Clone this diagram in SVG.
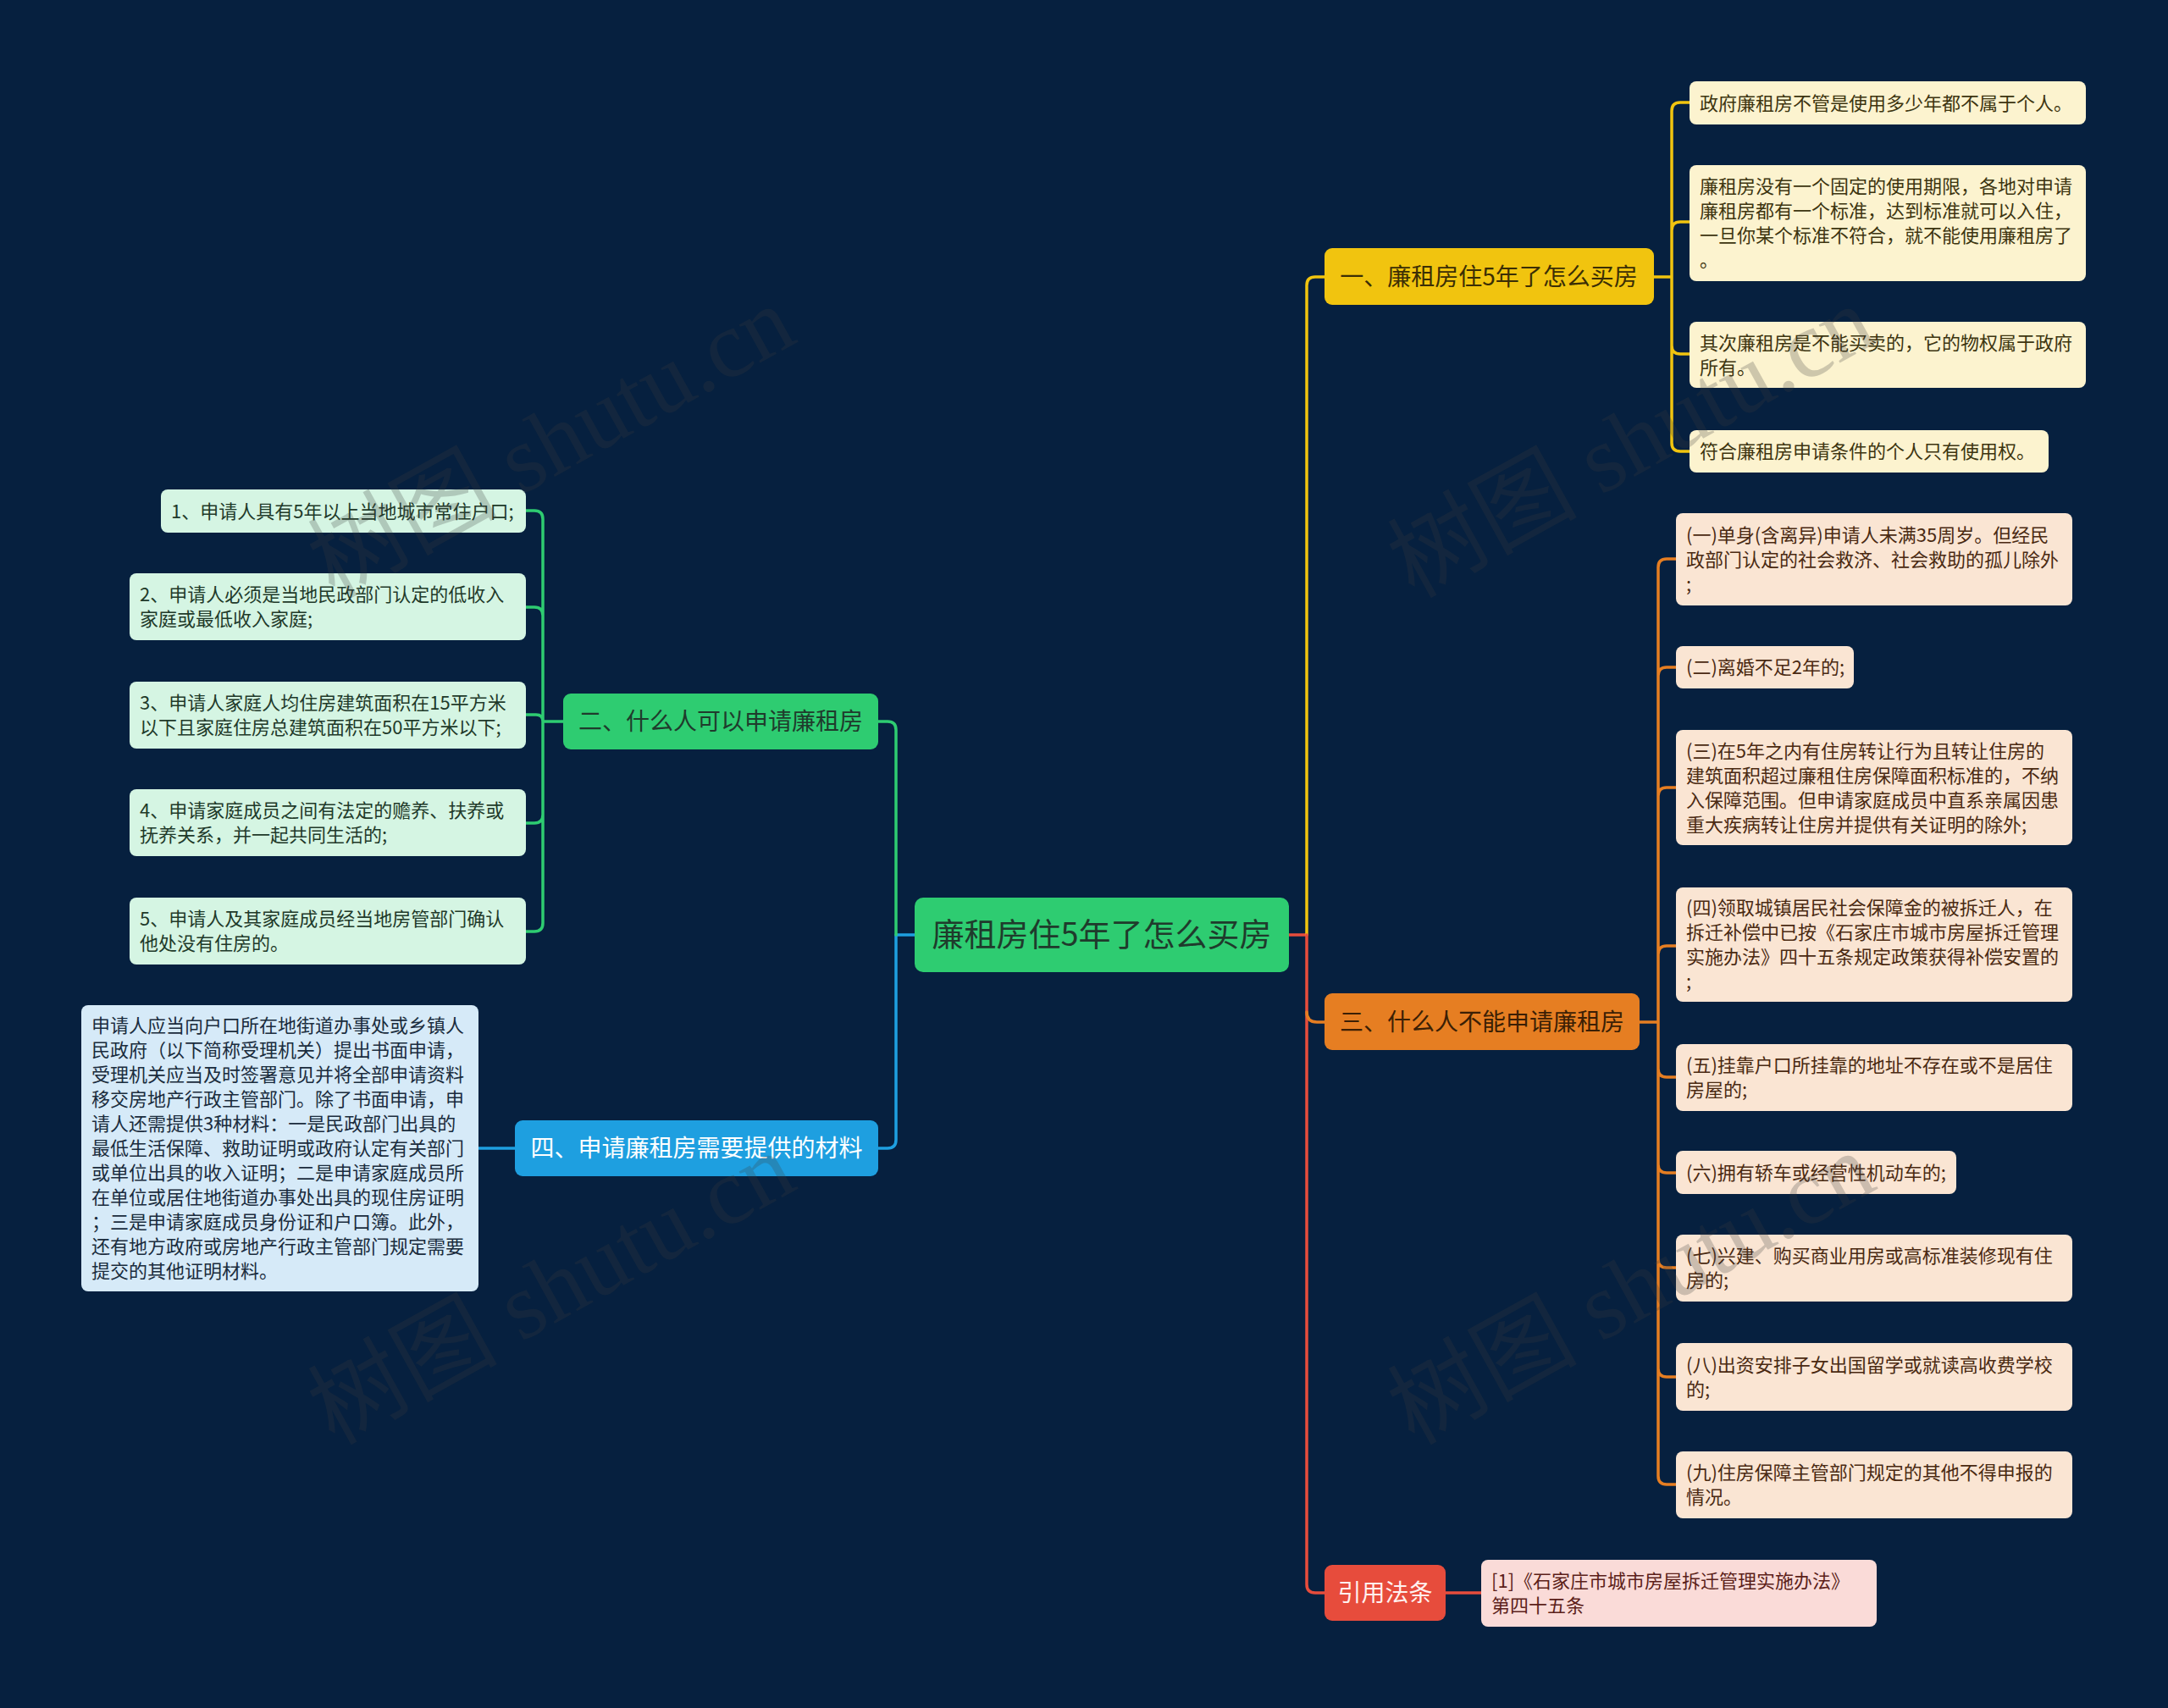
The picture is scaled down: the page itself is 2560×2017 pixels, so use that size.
<svg xmlns="http://www.w3.org/2000/svg" width="2560" height="2017" viewBox="0 0 2560 2017">
<style>
text{font-family:"Noto Sans CJK SC","Noto Sans",sans-serif;}
.t1{font-size:28px;text-anchor:middle;}
.t2{font-size:22px;}
.c{fill:none;stroke-width:3.5;stroke-linecap:round;stroke-linejoin:round;}
.wm{font-family:"Liberation Serif","Noto Sans CJK SC",serif;font-size:112px;fill:#3c3c3c;opacity:0.24;}
</style>
<rect width="2560" height="2017" fill="#06203f"/>
<g id="connectors">
  <path class="c" stroke="#e74c3c" d="M1522,1104 H1543"/>
  <path class="c" stroke="#f1c40f" d="M1543,1104 V337 Q1543,327 1553,327 H1564"/>
  <path class="c" stroke="#e74c3c" d="M1543,1104 V1871 Q1543,1881 1553,1881 H1564"/>
  <path class="c" stroke="#e67e22" d="M1543,1195 Q1543,1207 1555,1207 H1564"/>
  <path class="c" stroke="#f1c40f" d="M1953,327 H1974 M1974,327 V131 Q1974,121 1984,121 H1995 M1974,327 V272 Q1974,262 1984,262 H1995 M1974,327 V408 Q1974,418 1984,418 H1995 M1974,327 V523 Q1974,533 1984,533 H1995"/>
  <path class="c" stroke="#e67e22" d="M1936,1207 H1958 M1958,1207 V670 Q1958,660 1968,660 H1979 M1958,1207 V798 Q1958,788 1968,788 H1979 M1958,1207 V940 Q1958,930 1968,930 H1979 M1958,1207 V1127 Q1958,1117 1968,1117 H1979 M1958,1207 V1262 Q1958,1272 1968,1272 H1979 M1958,1207 V1375 Q1958,1385 1968,1385 H1979 M1958,1207 V1487 Q1958,1497 1968,1497 H1979 M1958,1207 V1616 Q1958,1626 1968,1626 H1979 M1958,1207 V1743 Q1958,1753 1968,1753 H1979"/>
  <path class="c" stroke="#e74c3c" d="M1707,1881 H1749"/>
  <path class="c" stroke="#1e9fe0" d="M1080,1104 H1058 M1058,1104 V1346 Q1058,1356 1048,1356 H1037"/>
  <path class="c" stroke="#2ecc71" d="M1058,1104 V862 Q1058,852 1048,852 H1037"/>
  <path class="c" stroke="#2ecc71" d="M665,852 H641 M641,852 V613 Q641,603 631,603 H621 M641,852 V727 Q641,717 631,717 H621 M641,852 Q641,844 633,844 H621 M641,852 V962 Q641,972 631,972 H621 M641,852 V1090 Q641,1100 631,1100 H621"/>
  <path class="c" stroke="#1e9fe0" d="M608,1356 H565"/>
</g>
<g id="root">
  <rect x="1080" y="1060" width="442" height="88" rx="10" fill="#2ecc71"/>
  <text x="1301" y="1117" font-size="38" text-anchor="middle" fill="#1f3b2c">廉租房住5年了怎么买房</text>
</g>
<g id="n1">
  <rect x="1564" y="293" width="389" height="67" rx="9" fill="#f1c40f"/>
  <text class="t1" x="1758" y="337" fill="#3b2e05">一、廉租房住5年了怎么买房</text>
</g>
<g id="n1a">
  <rect x="1995" y="96" width="468" height="51" rx="8" fill="#fcf3cf"/>
  <text class="t2" x="2007" y="129.5" fill="#3d3510">政府廉租房不管是使用多少年都不属于个人。</text>
</g>
<g id="n1b">
  <rect x="1995" y="195" width="468" height="137" rx="8" fill="#fcf3cf"/>
  <text class="t2" fill="#3d3510"><tspan x="2007" y="228">廉租房没有一个固定的使用期限，各地对申请</tspan><tspan x="2007" y="257">廉租房都有一个标准，达到标准就可以入住，</tspan><tspan x="2007" y="286">一旦你某个标准不符合，就不能使用廉租房了</tspan><tspan x="2007" y="315">。</tspan></text>
</g>
<g id="n1c">
  <rect x="1995" y="380" width="468" height="78" rx="8" fill="#fcf3cf"/>
  <text class="t2" fill="#3d3510"><tspan x="2007" y="412.5">其次廉租房是不能买卖的，它的物权属于政府</tspan><tspan x="2007" y="441.5">所有。</tspan></text>
</g>
<g id="n1d">
  <rect x="1995" y="508" width="424" height="50" rx="8" fill="#fcf3cf"/>
  <text class="t2" x="2007" y="541" fill="#3d3510">符合廉租房申请条件的个人只有使用权。</text>
</g>
<g id="n3">
  <rect x="1564" y="1173" width="372" height="67" rx="9" fill="#e67e22"/>
  <text class="t1" x="1750" y="1217" fill="#3b1f05">三、什么人不能申请廉租房</text>
</g>
<g id="n3a">
  <rect x="1979" y="606" width="468" height="109" rx="8" fill="#fae5d3"/>
  <text class="t2" fill="#4a2a12"><tspan x="1991" y="639.5">(一)单身(含离异)申请人未满35周岁。但经民</tspan><tspan x="1991" y="668.5">政部门认定的社会救济、社会救助的孤儿除外</tspan><tspan x="1991" y="697.5">;</tspan></text>
</g>
<g id="n3b">
  <rect x="1979" y="763" width="210" height="50" rx="8" fill="#fae5d3"/>
  <text class="t2" x="1991" y="796" fill="#4a2a12">(二)离婚不足2年的;</text>
</g>
<g id="n3c">
  <rect x="1979" y="862" width="468" height="136" rx="8" fill="#fae5d3"/>
  <text class="t2" fill="#4a2a12"><tspan x="1991" y="894.5">(三)在5年之内有住房转让行为且转让住房的</tspan><tspan x="1991" y="923.5">建筑面积超过廉租住房保障面积标准的，不纳</tspan><tspan x="1991" y="952.5">入保障范围。但申请家庭成员中直系亲属因患</tspan><tspan x="1991" y="981.5">重大疾病转让住房并提供有关证明的除外;</tspan></text>
</g>
<g id="n3d">
  <rect x="1979" y="1048" width="468" height="135" rx="8" fill="#fae5d3"/>
  <text class="t2" fill="#4a2a12"><tspan x="1991" y="1080">(四)领取城镇居民社会保障金的被拆迁人，在</tspan><tspan x="1991" y="1109">拆迁补偿中已按《石家庄市城市房屋拆迁管理</tspan><tspan x="1991" y="1138">实施办法》四十五条规定政策获得补偿安置的</tspan><tspan x="1991" y="1167">;</tspan></text>
</g>
<g id="n3e">
  <rect x="1979" y="1233" width="468" height="79" rx="8" fill="#fae5d3"/>
  <text class="t2" fill="#4a2a12"><tspan x="1991" y="1266">(五)挂靠户口所挂靠的地址不存在或不是居住</tspan><tspan x="1991" y="1295">房屋的;</tspan></text>
</g>
<g id="n3f">
  <rect x="1979" y="1359" width="331" height="51" rx="8" fill="#fae5d3"/>
  <text class="t2" x="1991" y="1392.5" fill="#4a2a12">(六)拥有轿车或经营性机动车的;</text>
</g>
<g id="n3g">
  <rect x="1979" y="1458" width="468" height="79" rx="8" fill="#fae5d3"/>
  <text class="t2" fill="#4a2a12"><tspan x="1991" y="1491">(七)兴建、购买商业用房或高标准装修现有住</tspan><tspan x="1991" y="1520">房的;</tspan></text>
</g>
<g id="n3h">
  <rect x="1979" y="1586" width="468" height="80" rx="8" fill="#fae5d3"/>
  <text class="t2" fill="#4a2a12"><tspan x="1991" y="1619.5">(八)出资安排子女出国留学或就读高收费学校</tspan><tspan x="1991" y="1648.5">的;</tspan></text>
</g>
<g id="n3i">
  <rect x="1979" y="1714" width="468" height="79" rx="8" fill="#fae5d3"/>
  <text class="t2" fill="#4a2a12"><tspan x="1991" y="1747">(九)住房保障主管部门规定的其他不得申报的</tspan><tspan x="1991" y="1776">情况。</tspan></text>
</g>
<g id="n5">
  <rect x="1564" y="1848" width="143" height="66" rx="9" fill="#e74c3c"/>
  <text class="t1" x="1635.5" y="1891" fill="#fff1ef">引用法条</text>
</g>
<g id="n5a">
  <rect x="1749" y="1842" width="467" height="79" rx="8" fill="#fadbd8"/>
  <text class="t2" fill="#5c1f1a"><tspan x="1761" y="1875">[1]《石家庄市城市房屋拆迁管理实施办法》</tspan><tspan x="1761" y="1904">第四十五条</tspan></text>
</g>
<g id="n2">
  <rect x="665" y="819" width="372" height="66" rx="9" fill="#2ecc71"/>
  <text class="t1" x="851" y="862" fill="#1f3b2c">二、什么人可以申请廉租房</text>
</g>
<g id="n2a">
  <rect x="190" y="578" width="431" height="51" rx="8" fill="#d5f5e3"/>
  <text class="t2" x="202" y="611.5" fill="#1f3a2a">1、申请人具有5年以上当地城市常住户口;</text>
</g>
<g id="n2b">
  <rect x="153" y="677" width="468" height="79" rx="8" fill="#d5f5e3"/>
  <text class="t2" fill="#1f3a2a"><tspan x="165" y="710">2、申请人必须是当地民政部门认定的低收入</tspan><tspan x="165" y="739">家庭或最低收入家庭;</tspan></text>
</g>
<g id="n2c">
  <rect x="153" y="805" width="468" height="79" rx="8" fill="#d5f5e3"/>
  <text class="t2" fill="#1f3a2a"><tspan x="165" y="838">3、申请人家庭人均住房建筑面积在15平方米</tspan><tspan x="165" y="867">以下且家庭住房总建筑面积在50平方米以下;</tspan></text>
</g>
<g id="n2d">
  <rect x="153" y="932" width="468" height="79" rx="8" fill="#d5f5e3"/>
  <text class="t2" fill="#1f3a2a"><tspan x="165" y="965">4、申请家庭成员之间有法定的赡养、扶养或</tspan><tspan x="165" y="994">抚养关系，并一起共同生活的;</tspan></text>
</g>
<g id="n2e">
  <rect x="153" y="1060" width="468" height="79" rx="8" fill="#d5f5e3"/>
  <text class="t2" fill="#1f3a2a"><tspan x="165" y="1093">5、申请人及其家庭成员经当地房管部门确认</tspan><tspan x="165" y="1122">他处没有住房的。</tspan></text>
</g>
<g id="n4">
  <rect x="608" y="1323" width="429" height="66" rx="9" fill="#1e9fe0"/>
  <text class="t1" x="822.5" y="1366" fill="#ffffff">四、申请廉租房需要提供的材料</text>
</g>
<g id="n4a">
  <rect x="96" y="1187" width="469" height="338" rx="8" fill="#d6eaf8"/>
  <text class="t2" fill="#1a2c3d"><tspan x="108" y="1219">申请人应当向户口所在地街道办事处或乡镇人</tspan><tspan x="108" y="1248">民政府（以下简称受理机关）提出书面申请，</tspan><tspan x="108" y="1277">受理机关应当及时签署意见并将全部申请资料</tspan><tspan x="108" y="1306">移交房地产行政主管部门。除了书面申请，申</tspan><tspan x="108" y="1335">请人还需提供3种材料：一是民政部门出具的</tspan><tspan x="108" y="1364">最低生活保障、救助证明或政府认定有关部门</tspan><tspan x="108" y="1393">或单位出具的收入证明；二是申请家庭成员所</tspan><tspan x="108" y="1422">在单位或居住地街道办事处出具的现住房证明</tspan><tspan x="108" y="1451">；三是申请家庭成员身份证和户口簿。此外，</tspan><tspan x="108" y="1480">还有地方政府或房地产行政主管部门规定需要</tspan><tspan x="108" y="1509">提交的其他证明材料。</tspan></text>
</g>
<g id="watermarks">
  <text class="wm" x="650" y="560" text-anchor="middle" transform="rotate(-29 650 520)">树图 shutu.cn</text>
  <text class="wm" x="1925" y="560" text-anchor="middle" transform="rotate(-29 1925 520)">树图 shutu.cn</text>
  <text class="wm" x="650" y="1560" text-anchor="middle" transform="rotate(-29 650 1520)">树图 shutu.cn</text>
  <text class="wm" x="1925" y="1560" text-anchor="middle" transform="rotate(-29 1925 1520)">树图 shutu.cn</text>
</g>
</svg>
